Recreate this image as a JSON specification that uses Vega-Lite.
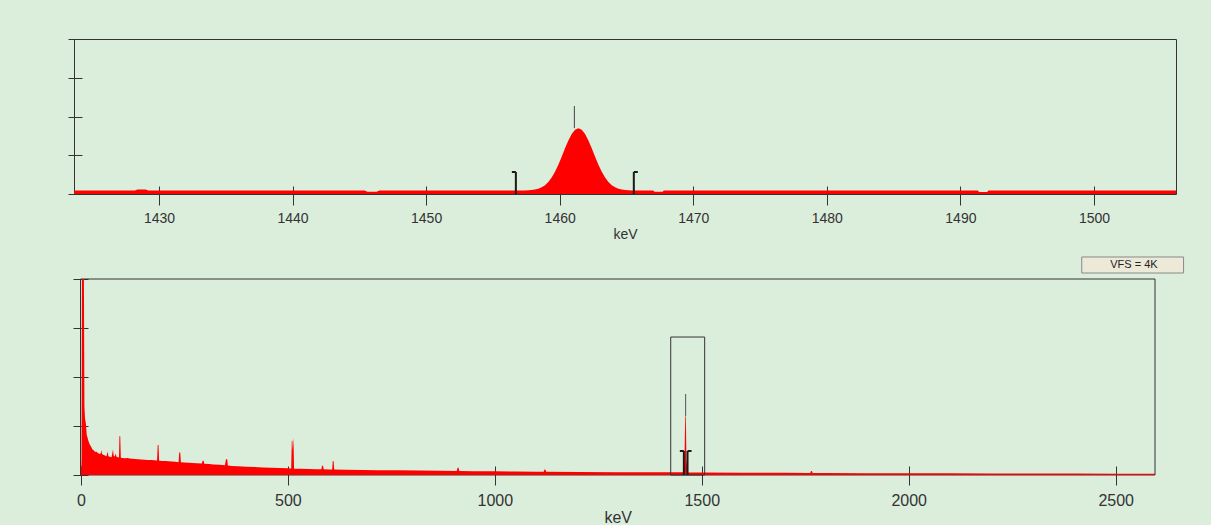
{
  "$schema": "https://vega.github.io/schema/vega-lite/v6.json",
  "background": "#dbeddb",
  "padding": {"left": 67, "top": 38, "right": 28, "bottom": 0},
  "spacing": 14,
  "config": {
    "font": "Liberation Sans",
    "view": {"stroke": "#333333", "strokeWidth": 1},
    "axis": {"grid": false, "domain": false, "labelFlush": false, "tickColor": "#333333", "labelColor": "#333333", "titleColor": "#333333", "titleFontWeight": "normal", "labelFont": "Liberation Sans", "titleFont": "Liberation Sans"}
  },
  "datasets": {
    "top": [
      {"keV": 1423.64, "c": 90}, {"keV": 1428.2, "c": 90}, {"keV": 1428.4, "c": 118}, {"keV": 1429.0, "c": 118}, {"keV": 1429.2, "c": 90},
      {"keV": 1445.4, "c": 90}, {"keV": 1445.6, "c": 55}, {"keV": 1446.3, "c": 55}, {"keV": 1446.5, "c": 90},
      {"keV": 1457.0, "c": 91}, {"keV": 1457.4, "c": 93}, {"keV": 1457.65, "c": 97}, {"keV": 1457.9, "c": 103}, {"keV": 1458.15, "c": 116},
      {"keV": 1458.4, "c": 137}, {"keV": 1458.65, "c": 173}, {"keV": 1458.9, "c": 229}, {"keV": 1459.15, "c": 312}, {"keV": 1459.4, "c": 426},
      {"keV": 1459.65, "c": 575}, {"keV": 1459.9, "c": 757}, {"keV": 1460.15, "c": 963}, {"keV": 1460.4, "c": 1178}, {"keV": 1460.65, "c": 1381},
      {"keV": 1460.9, "c": 1550}, {"keV": 1461.15, "c": 1661}, {"keV": 1461.4, "c": 1700}, {"keV": 1461.65, "c": 1661}, {"keV": 1461.9, "c": 1550},
      {"keV": 1462.15, "c": 1381}, {"keV": 1462.4, "c": 1178}, {"keV": 1462.65, "c": 963}, {"keV": 1462.9, "c": 757}, {"keV": 1463.15, "c": 575},
      {"keV": 1463.4, "c": 426}, {"keV": 1463.65, "c": 312}, {"keV": 1463.9, "c": 229}, {"keV": 1464.15, "c": 173}, {"keV": 1464.4, "c": 137},
      {"keV": 1464.65, "c": 116}, {"keV": 1464.9, "c": 103}, {"keV": 1465.15, "c": 97}, {"keV": 1465.4, "c": 93}, {"keV": 1466.0, "c": 90},
      {"keV": 1467.0, "c": 90}, {"keV": 1467.1, "c": 55}, {"keV": 1467.7, "c": 55}, {"keV": 1467.8, "c": 90},
      {"keV": 1491.3, "c": 90}, {"keV": 1491.4, "c": 50}, {"keV": 1492.0, "c": 50}, {"keV": 1492.1, "c": 90}, {"keV": 1506.14, "c": 90}
    ],
    "topMarker": [{"keV": 1461.1, "keV2": 1461.1, "c": 1700, "c2": 2270}],
    "topBrackets": [
      {"keV": 1456.72, "keV2": 1456.72, "c": 0, "c2": 568},
      {"keV": 1456.42, "keV2": 1456.72, "c": 568, "c2": 568},
      {"keV": 1465.55, "keV2": 1465.55, "c": 0, "c2": 568},
      {"keV": 1465.55, "keV2": 1465.85, "c": 568, "c2": 568}
    ],
    "bottom": [
      {"keV": 0, "c": 0}, {"keV": 1.5, "c": 300}, {"keV": 2.5, "c": 4500}, {"keV": 7, "c": 4500}, {"keV": 8.5, "c": 1400},
      {"keV": 10, "c": 1150}, {"keV": 12, "c": 1050}, {"keV": 14, "c": 820}, {"keV": 16, "c": 760}, {"keV": 18, "c": 700},
      {"keV": 20, "c": 650}, {"keV": 22, "c": 610}, {"keV": 25, "c": 570}, {"keV": 28, "c": 520}, {"keV": 31, "c": 505},
      {"keV": 34, "c": 470}, {"keV": 37, "c": 480}, {"keV": 40, "c": 455}, {"keV": 43, "c": 440}, {"keV": 46, "c": 430},
      {"keV": 48, "c": 445}, {"keV": 49.5, "c": 510}, {"keV": 51, "c": 430}, {"keV": 54, "c": 415}, {"keV": 58, "c": 400},
      {"keV": 62, "c": 385}, {"keV": 64.5, "c": 480}, {"keV": 66.5, "c": 385}, {"keV": 70, "c": 375}, {"keV": 74, "c": 360},
      {"keV": 77.5, "c": 520}, {"keV": 79, "c": 400}, {"keV": 82, "c": 380}, {"keV": 84, "c": 440}, {"keV": 86, "c": 370},
      {"keV": 90, "c": 360}, {"keV": 92, "c": 355}, {"keV": 93, "c": 790}, {"keV": 95, "c": 790}, {"keV": 96.5, "c": 350},
      {"keV": 100, "c": 345}, {"keV": 106, "c": 340}, {"keV": 112, "c": 348}, {"keV": 118, "c": 335}, {"keV": 124, "c": 330},
      {"keV": 130, "c": 328}, {"keV": 138, "c": 320}, {"keV": 146, "c": 318}, {"keV": 154, "c": 312}, {"keV": 162, "c": 308},
      {"keV": 170, "c": 306}, {"keV": 178, "c": 300}, {"keV": 184, "c": 296}, {"keV": 185.5, "c": 610}, {"keV": 187.5, "c": 610},
      {"keV": 189, "c": 292}, {"keV": 196, "c": 288}, {"keV": 204, "c": 285}, {"keV": 212, "c": 280}, {"keV": 220, "c": 275},
      {"keV": 228, "c": 270}, {"keV": 236, "c": 262}, {"keV": 237.5, "c": 460}, {"keV": 240, "c": 460}, {"keV": 241.5, "c": 258},
      {"keV": 250, "c": 255}, {"keV": 260, "c": 250}, {"keV": 270, "c": 245}, {"keV": 280, "c": 240}, {"keV": 292, "c": 234},
      {"keV": 294, "c": 290}, {"keV": 296.5, "c": 290}, {"keV": 298, "c": 230}, {"keV": 310, "c": 222}, {"keV": 320, "c": 215},
      {"keV": 335, "c": 208}, {"keV": 348, "c": 198}, {"keV": 350.5, "c": 320}, {"keV": 353.5, "c": 320}, {"keV": 355, "c": 192},
      {"keV": 365, "c": 185}, {"keV": 380, "c": 178}, {"keV": 400, "c": 170}, {"keV": 420, "c": 162}, {"keV": 440, "c": 154},
      {"keV": 460, "c": 148}, {"keV": 480, "c": 142}, {"keV": 500, "c": 136}, {"keV": 508, "c": 134}, {"keV": 509.5, "c": 700},
      {"keV": 511, "c": 700}, {"keV": 512, "c": 500}, {"keV": 513.5, "c": 770}, {"keV": 515, "c": 130}, {"keV": 530, "c": 126},
      {"keV": 550, "c": 122}, {"keV": 570, "c": 119}, {"keV": 581, "c": 117}, {"keV": 582.5, "c": 190}, {"keV": 585, "c": 190},
      {"keV": 586.5, "c": 116}, {"keV": 600, "c": 114}, {"keV": 607, "c": 112}, {"keV": 608.5, "c": 285}, {"keV": 610.5, "c": 285},
      {"keV": 612, "c": 110}, {"keV": 640, "c": 106}, {"keV": 680, "c": 102}, {"keV": 720, "c": 98}, {"keV": 770, "c": 95},
      {"keV": 820, "c": 90}, {"keV": 870, "c": 86}, {"keV": 908, "c": 83}, {"keV": 910, "c": 150}, {"keV": 912.5, "c": 150},
      {"keV": 914, "c": 82}, {"keV": 950, "c": 79}, {"keV": 1000, "c": 76}, {"keV": 1050, "c": 72}, {"keV": 1100, "c": 68},
      {"keV": 1118, "c": 66}, {"keV": 1120, "c": 110}, {"keV": 1122, "c": 110}, {"keV": 1124, "c": 65}, {"keV": 1200, "c": 62},
      {"keV": 1300, "c": 58}, {"keV": 1400, "c": 55}, {"keV": 1455, "c": 54}, {"keV": 1458, "c": 200}, {"keV": 1460, "c": 1200},
      {"keV": 1461.5, "c": 1200}, {"keV": 1463, "c": 300}, {"keV": 1466, "c": 53}, {"keV": 1500, "c": 52}, {"keV": 1600, "c": 48},
      {"keV": 1700, "c": 45}, {"keV": 1762, "c": 42}, {"keV": 1764, "c": 80}, {"keV": 1766, "c": 80}, {"keV": 1768, "c": 42},
      {"keV": 1800, "c": 40}, {"keV": 1900, "c": 38}, {"keV": 2000, "c": 36}, {"keV": 2100, "c": 34}, {"keV": 2200, "c": 32},
      {"keV": 2300, "c": 31}, {"keV": 2400, "c": 30}, {"keV": 2500, "c": 28}, {"keV": 2595, "c": 27}
    ],
    "frame": [{"keV": -1, "keV2": 2595, "c": 0, "c2": 4000}],
    "roi": [{"keV": 1425, "keV2": 1507, "c": 0, "c2": 2816}],
    "bottomMarker": [{"keV": 1461, "keV2": 1461, "c": 1204, "c2": 1653}],
    "bottomBrackets": [
      {"keV": 1456.7, "keV2": 1456.7, "c": 0, "c2": 490},
      {"keV": 1447.0, "keV2": 1456.7, "c": 490, "c2": 490},
      {"keV": 1465.6, "keV2": 1465.6, "c": 0, "c2": 490},
      {"keV": 1465.6, "keV2": 1475.3, "c": 490, "c2": 490}
    ],
    "vfsBox": [{"keV": 2418, "keV2": 2664, "c": 4122, "c2": 4449}],
    "vfsText": [{"keV": 2544, "c": 4286, "label": "VFS = 4K"}]
  },
  "vconcat": [
    {
      "width": 1102,
      "height": 155,
      "encoding": {
        "x": {"field": "keV", "type": "quantitative", "scale": {"domain": [1423.64, 1506.14], "nice": false, "zero": false},
          "axis": {"values": [1430, 1440, 1450, 1460, 1470, 1480, 1490, 1500], "format": "d", "title": "keV", "offset": -8, "tickSize": 19, "labelPadding": 6, "labelFontSize": 14, "titleFontSize": 14, "titlePadding": 2}},
        "y": {"field": "c", "type": "quantitative", "scale": {"domain": [0, 4000], "nice": false},
          "axis": {"values": [0, 1000, 2000, 3000, 4000], "labels": false, "title": null, "offset": -8, "tickSize": 14, "minExtent": 14, "maxExtent": 14}}
      },
      "layer": [
        {
          "data": {"name": "top"},
          "mark": {"type": "area", "color": "#ff0000", "clip": true, "interpolate": "linear"}
        },
        {
          "data": {"name": "topMarker"},
          "mark": {"type": "rule", "color": "#444444", "strokeWidth": 1},
          "encoding": {"x2": {"field": "keV2"}, "y2": {"field": "c2"}}
        },
        {
          "data": {"name": "topBrackets"},
          "mark": {"type": "rule", "color": "#1a1a1a", "strokeWidth": 2},
          "encoding": {"x2": {"field": "keV2"}, "y2": {"field": "c2"}}
        }
      ]
    },
    {
      "width": 1081,
      "height": 196,
      "view": {"stroke": null},
      "encoding": {
        "x": {"field": "keV", "type": "quantitative", "scale": {"domain": [-1, 2595], "nice": false, "zero": false, "range": [6.5, 1081]},
          "axis": {"values": [0, 500, 1000, 1500, 2000, 2500], "format": "d", "title": "keV", "offset": -9, "tickSize": 19, "labelPadding": 7, "labelFontSize": 16, "titleFontSize": 16, "titlePadding": 1}},
        "y": {"field": "c", "type": "quantitative", "scale": {"domain": [0, 4000], "nice": false},
          "axis": {"values": [0, 1000, 2000, 3000, 4000], "labels": false, "title": null, "offset": -14, "tickSize": 15, "minExtent": 15, "maxExtent": 15}}
      },
      "layer": [
        {
          "data": {"name": "frame"},
          "mark": {"type": "rect", "fillOpacity": 0, "stroke": "#333333", "strokeWidth": 1},
          "encoding": {"x2": {"field": "keV2"}, "y2": {"field": "c2"}}
        },
        {
          "data": {"name": "vfsBox"},
          "mark": {"type": "rect", "fill": "#ece9d8", "stroke": "#8a8a8a", "strokeWidth": 1, "clip": false},
          "encoding": {"x2": {"field": "keV2"}, "y2": {"field": "c2"}}
        },
        {
          "data": {"name": "vfsText"},
          "mark": {"type": "text", "fontSize": 11, "color": "#222222", "clip": false, "font": "Liberation Sans"},
          "encoding": {"text": {"field": "label"}}
        },
        {
          "data": {"name": "bottom"},
          "mark": {"type": "area", "color": "#ff0000", "clip": true, "interpolate": "linear"}
        },
        {
          "data": {"name": "roi"},
          "mark": {"type": "rect", "fillOpacity": 0, "stroke": "#333333", "strokeWidth": 1},
          "encoding": {"x2": {"field": "keV2"}, "y2": {"field": "c2"}}
        },
        {
          "data": {"name": "bottomMarker"},
          "mark": {"type": "rule", "color": "#555555", "strokeWidth": 1},
          "encoding": {"x2": {"field": "keV2"}, "y2": {"field": "c2"}}
        },
        {
          "data": {"name": "bottomBrackets"},
          "mark": {"type": "rule", "color": "#1a1a1a", "strokeWidth": 2},
          "encoding": {"x2": {"field": "keV2"}, "y2": {"field": "c2"}}
        }
      ]
    }
  ]
}
